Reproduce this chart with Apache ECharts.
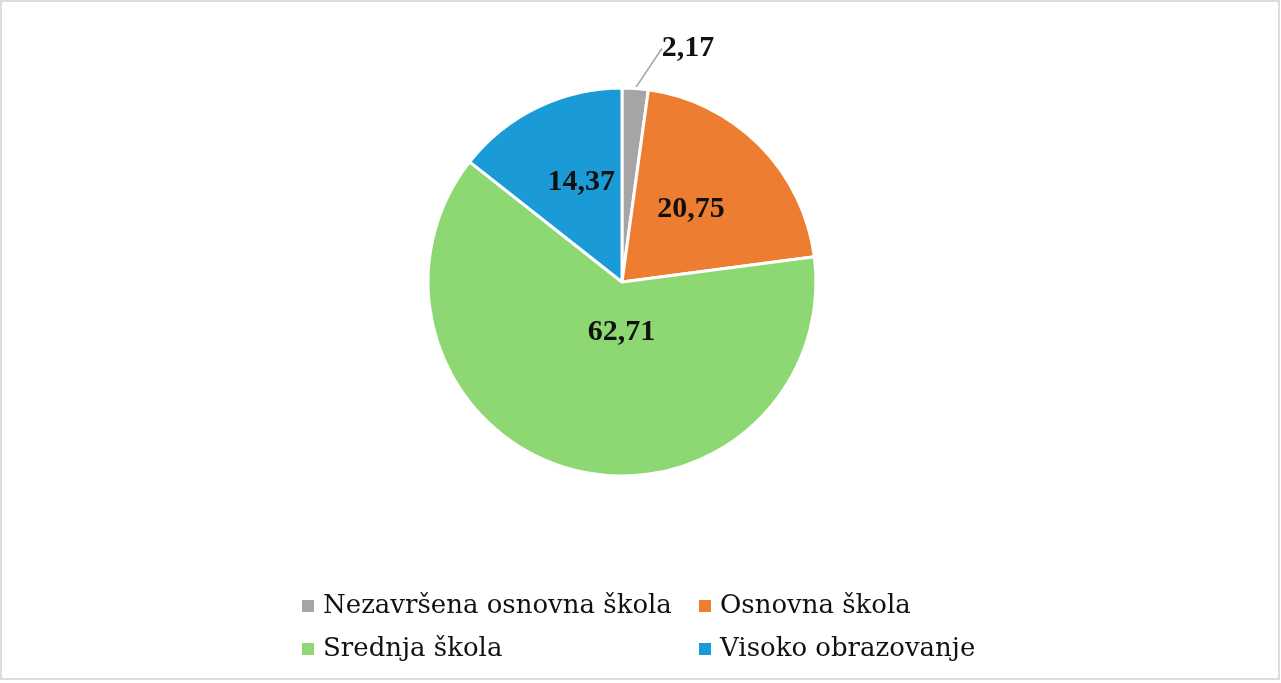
<!DOCTYPE html>
<html>
<head>
<meta charset="utf-8">
<script src="https://cdn.jsdelivr.net/npm/echarts@6/dist/echarts.min.js"></script>
<style>
  html, body { margin: 0; padding: 0; background: #fff; }
  #chart { width: 1281px; height: 683px; }
</style>
</head>
<body>
<div id="chart"></div>
<script>
var categories = ['Nezavršena osnovna škola', 'Osnovna škola', 'Srednja škola', 'Visoko obrazovanje'];
var values = [2.17, 20.75, 62.71, 14.37];
var colors = ['#A5A5A5', '#ED7D31', '#8ED873', '#1A9AD6'];

var serif = '"Liberation Serif", "DejaVu Serif", serif';
var legendFont = '"DejaVu Serif", "Liberation Serif", serif';

// label tweaks per slice, the small one goes outside
var labelOpts = [
    { position: 'outside', distance: 2 },
    { offset: [-2, -2] },
    { offset: [26, -46] },
    { offset: [3, -10] }
];

var pieData = [];
for (var i = 0; i < categories.length; i++) {
    var item = {
        name: categories[i],
        value: values[i],
        itemStyle: { color: colors[i] },
        label: labelOpts[i]
    };
    if (i === 0) {
        item.labelLine = { show: true, length: 10, length2: 0, lineStyle: { color: '#A5A5A5', width: 1.5 } };
    } else {
        item.labelLine = { show: false };
    }
    pieData.push(item);
}

var legendText = { fontFamily: legendFont, fontSize: 26, color: '#111', padding: [0, 0, 0, 3] };

var chart = echarts.init(document.getElementById('chart'));
chart.setOption({
    backgroundColor: '#fff',
    animation: false,
    graphic: [{
        type: 'rect',
        shape: { x: 1, y: 1, width: 1278, height: 678 },
        style: { fill: 'none', stroke: '#dcdcdc', lineWidth: 2 },
        silent: true
    }],
    legend: [{
        orient: 'vertical',
        left: 295,
        top: 588,
        itemWidth: 14,
        itemHeight: 14,
        itemGap: 17,
        icon: 'rect',
        data: [categories[0], categories[2]],
        textStyle: legendText
    }, {
        orient: 'vertical',
        left: 692,
        top: 588,
        itemWidth: 14,
        itemHeight: 14,
        itemGap: 17,
        icon: 'rect',
        data: [categories[1], categories[3]],
        textStyle: legendText
    }],
    series: [{
        type: 'pie',
        center: [622, 282],
        radius: 194,
        startAngle: 90,
        clockwise: true,
        avoidLabelOverlap: false,
        itemStyle: { borderColor: '#fff', borderWidth: 3 },
        label: {
            show: true,
            position: 'inside',
            fontFamily: serif,
            fontWeight: 'bold',
            fontSize: 30,
            color: '#111',
            formatter: function (p) {
                return p.value.toFixed(2).replace('.', ',');
            }
        },
        labelLayout: function (params) {
            if (params.dataIndex === 0) {
                return {
                    x: params.rect.x + params.rect.width + 12,
                    y: params.rect.y - 38,
                    align: 'left',
                    verticalAlign: 'middle'
                };
            }
        },
        data: pieData
    }]
});
</script>
</body>
</html>
